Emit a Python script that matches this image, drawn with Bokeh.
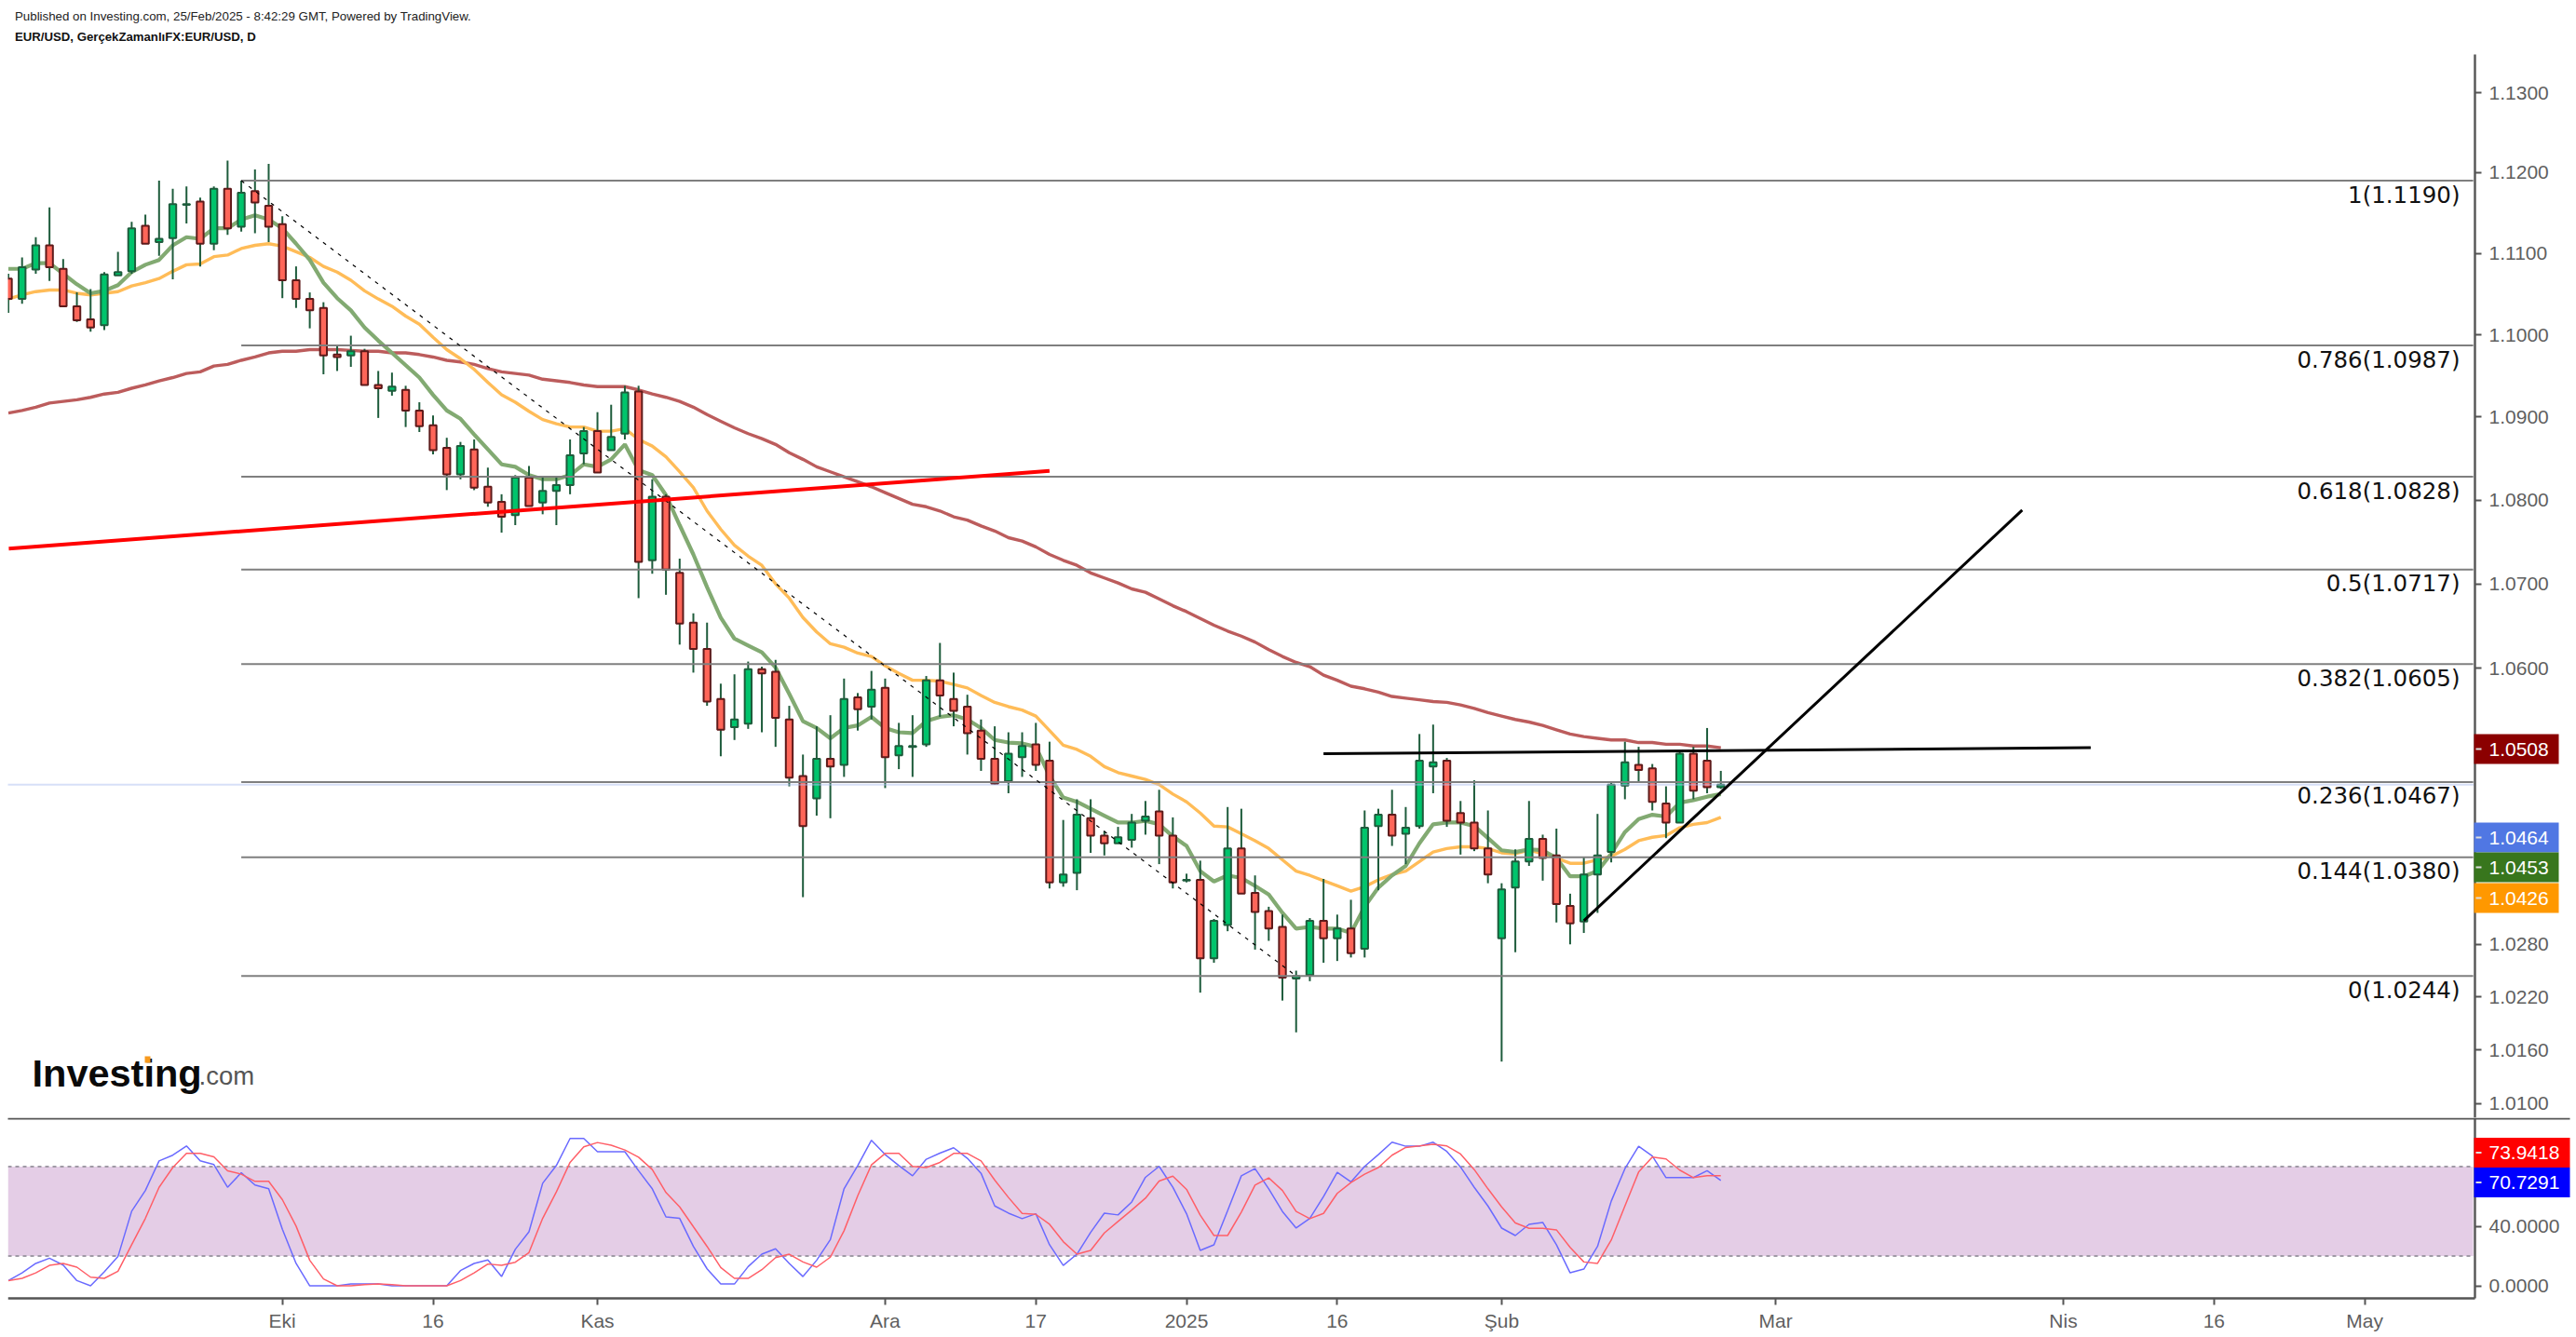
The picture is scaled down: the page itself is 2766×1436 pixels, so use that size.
from bokeh.plotting import figure
from bokeh.layouts import column
from bokeh.models import (Range1d, FixedTicker, PrintfTickFormatter, Label, BoxAnnotation)
from bokeh.embed import file_html
from bokeh.resources import INLINE

highs = [1.1075,1.1095,1.1120,1.1157,1.1093,1.1052,1.1056,1.1077,1.1102,1.1139,1.1148,1.1190,1.1180,1.1183,1.1169,1.1183,1.1215,1.1190,1.1204,1.1211,
1.1146,1.1084,1.1052,1.1040,1.0988,1.0999,1.0983,1.0956,1.0954,1.0938,1.0918,1.0902,1.0875,1.0870,1.0873,1.0839,1.0807,1.0830,1.0841,1.0828,
1.0828,1.0873,1.0888,1.0906,1.0915,1.0938,1.0938,1.0825,1.0807,1.0730,1.0665,1.0654,1.0582,1.0593,1.0608,1.0602,1.0610,1.0556,1.0499,1.0532,
1.0545,1.0588,1.0571,1.0597,1.0588,1.0536,1.0545,1.0591,1.0630,1.0595,1.0569,1.0540,1.0532,1.0525,1.0525,1.0536,1.0514,1.0423,1.0447,1.0447,
1.0410,1.0415,1.0430,1.0445,1.0458,1.0426,1.0361,1.0376,1.0309,1.0438,1.0436,1.0359,1.0323,1.0314,1.0250,1.0310,1.0355,1.0314,1.0331,1.0434,
1.0436,1.0458,1.0438,1.0523,1.0534,1.0495,1.0445,1.0469,1.0434,1.0350,1.0389,1.0445,1.0406,1.0413,1.0338,1.0380,1.0430,1.0467,1.0514,1.0508,
1.0488,1.0462,1.0503,1.0508,1.0530,1.0480]
lows = [1.1027,1.1038,1.1075,1.1066,1.1035,1.1016,1.1004,1.1006,1.1073,1.1075,1.1112,1.1097,1.1068,1.1137,1.1084,1.1104,1.1123,1.1127,1.1125,1.1114,
1.1045,1.1033,1.1008,1.0952,1.0956,1.0961,1.0939,1.0899,1.0926,1.0888,1.0882,1.0855,1.0812,1.0825,1.0812,1.0792,1.0761,1.0770,1.0793,1.0783,
1.0770,1.0807,1.0843,1.0833,1.0860,1.0873,1.0683,1.0712,1.0687,1.0628,1.0595,1.0556,1.0497,1.0516,1.0529,1.0525,1.0508,1.0462,1.0334,1.0428,
1.0425,1.0473,1.0527,1.0540,1.0460,1.0482,1.0473,1.0508,1.0543,1.0532,1.0499,1.0480,1.0464,1.0454,1.0473,1.0480,1.0344,1.0346,1.0342,1.0385,
1.0382,1.0396,1.0391,1.0406,1.0372,1.0344,1.0351,1.0225,1.0259,1.0295,1.0338,1.0274,1.0284,1.0216,1.0180,1.0238,1.0259,1.0261,1.0265,1.0265,
1.0342,1.0393,1.0372,1.0413,1.0454,1.0415,1.0383,1.0387,1.0350,1.0147,1.0271,1.0370,1.0353,1.0305,1.0280,1.0293,1.0316,1.0374,1.0447,1.0467,
1.0434,1.0402,1.0420,1.0447,1.0454,1.0459]
opens = [1.1069,1.1044,1.1080,1.1110,1.1081,1.1035,1.1019,1.1012,1.1073,1.1078,1.1134,1.1114,1.1119,1.1160,1.1164,1.1112,1.1180,1.1133,1.1177,1.1159,
1.1136,1.1067,1.1044,1.1033,1.0976,1.0975,1.0980,1.0939,1.0932,1.0933,1.0908,1.0890,1.0863,1.0831,1.0861,1.0816,1.0798,1.0782,1.0827,1.0797,
1.0811,1.0818,1.0856,1.0883,1.0860,1.0880,1.0931,1.0728,1.0804,1.0713,1.0654,1.0623,1.0564,1.0531,1.0535,1.0599,1.0596,1.0540,1.0474,1.0448,
1.0494,1.0487,1.0566,1.0555,1.0577,1.0498,1.0508,1.0511,1.0586,1.0564,1.0555,1.0527,1.0494,1.0468,1.0496,1.0511,1.0492,1.0351,1.0362,1.0425,
1.0405,1.0396,1.0400,1.0422,1.0433,1.0405,1.0353,1.0354,1.0264,1.0302,1.0390,1.0339,1.0318,1.0300,1.0241,1.0245,1.0307,1.0287,1.0298,1.0275,
1.0416,1.0429,1.0407,1.0416,1.0485,1.0492,1.0431,1.0420,1.0390,1.0287,1.0345,1.0375,1.0401,1.0382,1.0324,1.0306,1.0360,1.0386,1.0463,1.0487,
1.0483,1.0442,1.0420,1.0500,1.0492,1.0461]
closes = [1.1044,1.1083,1.1110,1.1083,1.1035,1.1018,1.1009,1.1074,1.1077,1.1131,1.1112,1.1118,1.1161,1.1161,1.1112,1.1180,1.1131,1.1175,1.1163,1.1133,
1.1067,1.1044,1.1030,1.0975,1.0973,1.0980,1.0939,1.0935,1.0937,1.0908,1.0889,1.0860,1.0831,1.0865,1.0815,1.0797,1.0780,1.0827,1.0793,1.0811,
1.0818,1.0854,1.0883,1.0833,1.0876,1.0930,1.0726,1.0804,1.0717,1.0653,1.0623,1.0561,1.0528,1.0540,1.0599,1.0594,1.0542,1.0472,1.0416,1.0494,
1.0485,1.0564,1.0552,1.0575,1.0496,1.0509,1.0509,1.0586,1.0568,1.0550,1.0524,1.0494,1.0465,1.0500,1.0509,1.0487,1.0351,1.0360,1.0429,1.0405,
1.0396,1.0403,1.0420,1.0427,1.0405,1.0351,1.0354,1.0264,1.0307,1.0390,1.0338,1.0317,1.0298,1.0242,1.0244,1.0307,1.0287,1.0298,1.0270,1.0414,
1.0429,1.0405,1.0414,1.0492,1.0490,1.0422,1.0420,1.0390,1.0360,1.0343,1.0375,1.0401,1.0379,1.0326,1.0304,1.0360,1.0382,1.0464,1.0490,1.0481,
1.0444,1.0420,1.0500,1.0457,1.0461,1.0464]

ma_green = [1.1081,1.1081,1.1088,1.1088,1.1075,1.1062,1.1051,1.1054,1.1061,1.1077,1.1086,1.1092,1.1110,1.1120,1.1118,1.1131,1.1131,1.1142,1.1147,1.1142,
1.1131,1.1112,1.1092,1.1064,1.1045,1.1030,1.1009,1.0993,1.0978,1.0963,1.0948,1.0927,1.0908,1.0898,1.0879,1.0861,1.0843,1.0840,1.0830,1.0825,
1.0825,1.0830,1.0843,1.0840,1.0849,1.0867,1.0836,1.0830,1.0806,1.0770,1.0735,1.0696,1.0660,1.0635,1.0627,1.0619,1.0601,1.0570,1.0538,1.0530,
1.0518,1.0530,1.0533,1.0543,1.0530,1.0525,1.0524,1.0538,1.0543,1.0545,1.0540,1.0530,1.0516,1.0513,1.0512,1.0508,1.0474,1.0449,1.0444,1.0436,
1.0428,1.0420,1.0420,1.0422,1.0418,1.0404,1.0393,1.0364,1.0352,1.0359,1.0356,1.0347,1.0337,1.0316,1.0298,1.0300,1.0298,1.0298,1.0293,1.0323,
1.0345,1.0359,1.0370,1.0396,1.0418,1.0420,1.0420,1.0416,1.0402,1.0388,1.0386,1.0389,1.0388,1.0379,1.0358,1.0358,1.0364,1.0384,1.0409,1.0424,
1.0429,1.0427,1.0443,1.0446,1.0450,1.0453]
ma_orange = [1.1044,1.1049,1.1053,1.1055,1.1055,1.1051,1.1049,1.1051,1.1053,1.1060,1.1064,1.1069,1.1078,1.1086,1.1087,1.1096,1.1098,1.1106,1.1110,1.1112,
1.1109,1.1102,1.1095,1.1084,1.1077,1.1067,1.1054,1.1044,1.1035,1.1023,1.1013,1.0997,1.0982,1.0971,1.0958,1.0942,1.0927,1.0918,1.0907,1.0897,
1.0892,1.0888,1.0888,1.0883,1.0883,1.0886,1.0873,1.0865,1.0852,1.0834,1.0815,1.0787,1.0765,1.0746,1.0733,1.0722,1.0700,1.0683,1.0660,1.0643,
1.0629,1.0625,1.0618,1.0614,1.0603,1.0594,1.0586,1.0586,1.0585,1.0581,1.0577,1.0568,1.0560,1.0555,1.0551,1.0544,1.0527,1.0510,1.0505,1.0497,
1.0485,1.0478,1.0474,1.0470,1.0464,1.0453,1.0444,1.0431,1.0416,1.0415,1.0407,1.0399,1.0390,1.0377,1.0364,1.0359,1.0353,1.0347,1.0341,1.0346,
1.0354,1.0360,1.0364,1.0375,1.0386,1.0390,1.0392,1.0392,1.0390,1.0385,1.0384,1.0388,1.0384,1.0379,1.0373,1.0373,1.0377,1.0381,1.0389,1.0399,
1.0403,1.0405,1.0414,1.0418,1.0420,1.0426]
ma_red = [1.0905,1.0908,1.0912,1.0917,1.0919,1.0921,1.0924,1.0928,1.0930,1.0935,1.0939,1.0944,1.0948,1.0953,1.0955,1.0962,1.0964,1.0969,1.0973,1.0978,
1.0980,1.0980,1.0982,1.0982,1.0982,1.0981,1.0980,1.0980,1.0978,1.0978,1.0976,1.0973,1.0969,1.0967,1.0964,1.0959,1.0955,1.0953,1.0951,1.0946,
1.0944,1.0942,1.0939,1.0937,1.0937,1.0937,1.0933,1.0928,1.0924,1.0919,1.0912,1.0903,1.0895,1.0887,1.0880,1.0874,1.0867,1.0857,1.0849,1.0840,
1.0834,1.0828,1.0822,1.0816,1.0809,1.0802,1.0795,1.0792,1.0787,1.0780,1.0776,1.0769,1.0763,1.0755,1.0751,1.0744,1.0735,1.0728,1.0722,1.0713,
1.0707,1.0701,1.0694,1.0690,1.0682,1.0674,1.0667,1.0659,1.0651,1.0644,1.0638,1.0631,1.0622,1.0614,1.0607,1.0602,1.0592,1.0586,1.0579,1.0576,
1.0572,1.0567,1.0565,1.0563,1.0561,1.0560,1.0557,1.0553,1.0548,1.0544,1.0540,1.0537,1.0533,1.0528,1.0523,1.0520,1.0518,1.0516,1.0516,1.0513,
1.0513,1.0511,1.0511,1.0509,1.0509,1.0507]

stoch_k = [3.6,8.8,15.1,18.6,14.0,3.6,0.1,9.5,19.7,50.1,64.0,83.8,87.6,93.8,83.8,81.3,66.1,75.9,67.6,65.1,
38.0,15.1,0.1,0.1,0.1,1.3,1.3,1.3,0.1,0.1,0.1,0.1,0.1,10.3,15.1,17.4,6.3,24.5,36.3,68.8,
80.7,98.8,98.8,89.9,89.9,89.9,77.2,65.1,46.3,45.3,26.5,11.5,1.3,1.3,13.0,21.3,24.9,15.1,6.3,17.2,
31.1,65.1,80.7,97.6,88.0,80.7,73.8,84.9,89.0,92.6,85.5,75.5,53.6,48.8,45.1,48.4,27.6,13.8,21.3,35.9,
48.8,47.6,56.3,72.8,80.1,66.1,48.4,23.8,27.6,50.5,73.8,78.6,65.1,49.9,38.8,45.3,59.9,76.1,69.7,80.1,
88.0,96.3,93.6,93.6,96.3,90.1,79.7,66.1,53.6,38.8,33.8,41.3,42.6,27.6,8.8,11.3,26.5,56.8,78.6,93.6,
87.0,72.6,72.6,72.6,77.2,70.7]
stoch_d = [3.6,5.1,8.8,13.8,15.1,12.6,5.9,5.1,9.9,27.6,45.3,66.1,79.3,88.8,88.8,86.5,77.2,74.9,70.1,70.1,
57.8,40.1,17.2,4.7,0.1,0.1,0.9,1.3,0.9,0.1,0.1,0.1,0.1,3.6,8.8,14.7,13.8,15.9,22.4,45.3,
63.0,82.8,93.2,96.1,94.3,91.1,86.3,78.0,62.6,53.0,39.7,26.5,12.4,5.1,5.1,10.9,19.0,21.3,16.1,12.6,
19.3,37.0,60.5,81.1,88.8,88.8,80.1,79.3,82.8,88.8,88.8,83.8,70.9,59.3,48.6,48.0,41.3,29.7,21.3,23.8,
35.5,43.2,50.9,58.8,70.3,73.6,64.7,47.4,33.8,33.8,49.5,67.6,72.4,64.0,49.9,45.1,48.6,62.0,69.3,74.9,
79.3,87.6,92.8,93.8,94.9,93.8,88.4,78.0,65.1,53.0,42.2,38.6,38.6,37.6,25.9,16.1,15.1,30.7,53.6,76.3,
86.3,85.1,77.6,72.6,73.9,73.9]

fib_levels = [1.1190,1.0987,1.0828,1.0717,1.0605,1.0467,1.0380,1.0244]
fib_names = ["1","0.786","0.618","0.5","0.382","0.236","0.144","0"]
price_ticks = [1.13,1.12,1.11,1.10,1.09,1.08,1.07,1.06,1.028,1.022,1.016,1.01]
stoch_ticks = [0,40]
date_ticks = [20,31,43,64,75,86,97,109,129,150,161,172]
date_labels = ["Eki","16","Kas","Ara","17","2025","16","Şub","Mar","Nis","16","May"]
last_price = 1.0464
red_trend_x = [0.03,76.0]; red_trend_y = [1.0742,1.0835]
flat_trend_x = [96,152]; flat_trend_y = [1.0500,1.0507]
up_trend_x = [115,147]; up_trend_y = [1.0307,1.0788]
fib_diag_x = [17,94]; fib_diag_y = [1.1190,1.0244]

n = len(closes)
for a in (highs,lows,opens,ma_green,ma_orange,ma_red,stoch_k,stoch_d):
    assert len(a)==n, len(a)
xs = list(range(n))

W = 2760
H1 = 1200          # canvas bottom of the price pane on the page
H2 = 1434          # canvas bottom of the oscillator pane on the page
AX = "#555555"; TICK = "#5f5f5f"
SANS = "Liberation Sans"
X_AXIS_AT = 180.05
x_range = Range1d(-0.578, 187.05)

p = figure(width=W, height=H1, output_backend="svg", toolbar_location=None,
           x_range=x_range, y_range=Range1d(1.00839, 1.14163), y_axis_type="log",
           y_axis_location="right", x_axis_location=None,
           min_border_left=0, min_border_right=0, min_border_top=0, min_border_bottom=0)
p2 = figure(width=W, height=H2-H1, output_backend="svg", toolbar_location=None,
            x_range=x_range, y_range=Range1d(-33.25, 112.7), y_axis_location="right",
            min_border_left=0, min_border_right=0, min_border_top=0, min_border_bottom=0)

for f in (p,p2):
    f.grid.visible=False
    f.outline_line_color=None
    f.yaxis.fixed_location=X_AXIS_AT
    f.yaxis.axis_line_color=AX; f.yaxis.axis_line_width=2.4
    f.yaxis.major_tick_line_color=AX; f.yaxis.major_tick_line_width=2
    f.yaxis.major_tick_out=7; f.yaxis.major_tick_in=0
    f.yaxis.minor_tick_line_color=None
    f.yaxis.major_label_text_font=SANS; f.yaxis.major_label_text_font_size="21px"
    f.yaxis.major_label_text_color=TICK; f.yaxis.major_label_standoff=8
p.yaxis.bounds=(1.00839,1.13479)
p2.yaxis.bounds=(-8.25,112.7)
p.yaxis.ticker=FixedTicker(ticks=price_ticks)
p.yaxis.formatter=PrintfTickFormatter(format="%.4f")
p2.yaxis.ticker=FixedTicker(ticks=stoch_ticks)
p2.yaxis.formatter=PrintfTickFormatter(format="%.4f")
xa=p2.xaxis
xa.fixed_location=-8.25
xa.bounds=(-0.034,X_AXIS_AT)
xa.ticker=FixedTicker(ticks=date_ticks)
xa.major_label_overrides={t:l for t,l in zip(date_ticks,date_labels)}
xa.axis_line_color=AX; xa.axis_line_width=2.4
xa.major_tick_line_color=AX; xa.major_tick_line_width=2; xa.major_tick_out=7; xa.major_tick_in=0
xa.minor_tick_line_color=None
xa.major_label_text_font=SANS; xa.major_label_text_font_size="21px"; xa.major_label_text_color=TICK
xa.major_label_standoff=6

# moving averages
p.line(xs, ma_red, line_color="#BC5C5C", line_width=3.4)
p.line(xs, ma_orange, line_color="#FFBC58", line_width=3.4)
p.line(xs, ma_green, line_color="#82AA72", line_width=4.2)

# candles
GREEN_B,GREEN_E,RED_B,RED_E,WICK="#00C46C","#1E5C3C","#FF6659","#5E1A1A","#1E5C3C"
up=[c>=o for o,c in zip(opens,closes)]
p.segment(xs,highs,xs,lows,line_color=WICK,line_width=2)
gi=[i for i in xs if up[i]]; ri=[i for i in xs if not up[i]]
p.vbar([i for i in gi],0.5,[opens[i] for i in gi],[closes[i] for i in gi],fill_color=GREEN_B,line_color=GREEN_E,line_width=2)
p.vbar([i for i in ri],0.5,[closes[i] for i in ri],[opens[i] for i in ri],fill_color=RED_B,line_color=RED_E,line_width=2)

# fibonacci
FIB_END=179.92
p.line([-0.034,FIB_END],[last_price,last_price],line_color="#AFC0F0",line_width=2,line_dash=[1,1])
for lv,nm in zip(fib_levels,fib_names):
    p.line([fib_diag_x[0],FIB_END],[lv,lv],line_color="#7F7F7F",line_width=2)
    p.add_layout(Label(x=178.96,y=lv,y_offset=-15,text=f"{nm}({lv:.4f})",text_align="right",
                       text_baseline="alphabetic",text_font="DejaVu Sans",text_font_size="24.5px",text_color="#111111"))
p.line(fib_diag_x,fib_diag_y,line_color="#000000",line_width=1.2,line_dash=[4,6])
p.line(red_trend_x,red_trend_y,line_color="#FF0000",line_width=4)
p.line(flat_trend_x,flat_trend_y,line_color="#000000",line_width=3)
p.line(up_trend_x,up_trend_y,line_color="#000000",line_width=3)

def txt(f,bottom,px,py,text,size,color,font=SANS,style="normal",base="middle",align="left"):
    f.add_layout(Label(x=px,y=bottom-py,x_units="screen",y_units="screen",text=text,
        text_font=font,text_font_size=size,text_color=color,text_font_style=style,
        text_baseline=base,text_align=align,level="overlay"))
def box(f,bottom,x0,x1,y0,y1,color):
    f.add_layout(BoxAnnotation(left=x0,right=x1,top=bottom-y0,bottom=bottom-y1,
        left_units="screen",right_units="screen",top_units="screen",bottom_units="screen",
        fill_color=color,fill_alpha=1,line_color=None,level="overlay"))

box(p,H1,0,8,0,1200,"#FFFFFF")
txt(p,H1,15.5,17,"Published on Investing.com, 25/Feb/2025 - 8:42:29 GMT, Powered by TradingView.","13.3px","#222222")
txt(p,H1,15.5,39,"EUR/USD, GerçekZamanlıFX:EUR/USD, D","13.2px","#111111",style="bold")
txt(p,H1,34,1152,"Investing","41.5px","#0a0a0a",style="bold",base="alphabetic")
txt(p,H1,213,1155,".com","27.5px","#555555",base="alphabetic")
box(p,H1,155,161,1134,1141,"#F79A1E")

for yc,col,t in [(804,"#8B0000","1.0508"),(899,"#5077E3","1.0464"),(931,"#38761D","1.0453"),(964,"#FF9800","1.0426")]:
    box(p,H1,2656,2747,yc-16,yc+16,col)
    box(p,H1,2658,2664,yc-1,yc+1,"#DDDDDD")
    txt(p,H1,2672,yc,t,"21px","#FFFFFF")

# stochastic
p2.add_layout(BoxAnnotation(left=-0.034,right=FIB_END,bottom=20,top=80,fill_color="#E4CDE6",fill_alpha=1,line_color=None,level="underlay"))
for lv in (20,80):
    p2.line([-0.034,FIB_END],[lv,lv],line_color="#A09AA6",line_width=2,line_dash=[4,4])
p2.line(xs,stoch_k,line_color="#6A6AFF",line_width=1.5)
p2.line(xs,stoch_d,line_color="#FF5F68",line_width=1.5)
box(p2,H2,0,8,1200,1434,"#FFFFFF")
box(p2,H2,8,2759,1200,1202,AX)
for yc,col,t in [(1237.5,"#FF0000","73.9418"),(1269.5,"#0000FF","70.7291")]:
    box(p2,H2,2656,2759,yc-16,yc+16,col)
    box(p2,H2,2658,2664,yc-1,yc+1,"#DDDDDD")
    txt(p2,H2,2672,yc,t,"21px","#FFFFFF")

layout=column(p,p2,spacing=0)
open("out.html","w").write(file_html(layout,INLINE))
